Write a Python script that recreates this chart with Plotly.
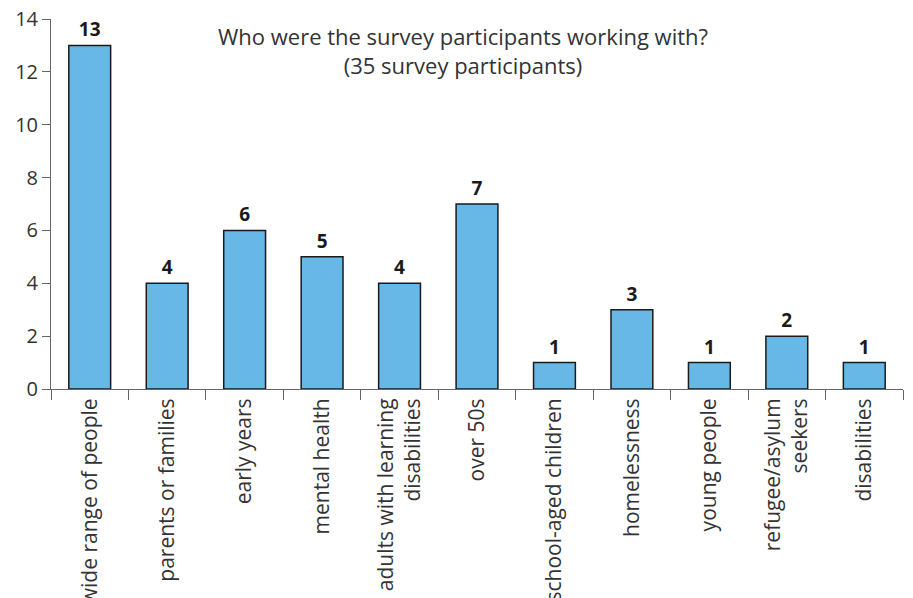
import plotly.graph_objects as go

categories = [
    "wide range of people", "parents or families", "early years", "mental health",
    "adults with learning<br>disabilities", "over 50s", "school-aged children",
    "homelessness", "young people", "refugee/asylum<br>seekers", "disabilities",
]
values = [13, 4, 6, 5, 4, 7, 1, 3, 1, 2, 1]
y_ticks = [0, 2, 4, 6, 8, 10, 12, 14]

FONT = "Open Sans, Roboto, DejaVu Sans, sans-serif"

fig = go.Figure(go.Bar(
    x=categories, y=values,
    marker=dict(color="#67b8e6", line=dict(color="#1a1a1a", width=1.5)),
    text=[str(v) for v in values], textposition="outside",
    textfont=dict(family=FONT, size=19, color="#1a1a1a", weight="bold"),
    cliponaxis=False,
))

# page body has an 8px margin, so the figure is shifted by (8, 8)
fig.update_layout(
    width=905, height=590,
    margin=dict(l=43, r=10, t=11, b=209, autoexpand=False),
    paper_bgcolor="white", plot_bgcolor="white",
    bargap=0.46, showlegend=False,
    font=dict(family=FONT, size=20, color="#333333"),
)
fig.update_xaxes(
    tickangle=-90, showline=True, linecolor="#666666", linewidth=1,
    ticks="outside", ticklen=10, tickcolor="#666666", tickson="boundaries",
    automargin=False, showgrid=False, tickfont=dict(size=21, color="#333333"),
    ticklabeloverflow="allow",
)
fig.update_yaxes(
    range=[0, 14], tickvals=y_ticks, showline=True, linecolor="#666666", linewidth=1,
    ticks="outside", ticklen=8, tickcolor="#666666", showgrid=False, zeroline=False,
    automargin=False, tickfont=dict(size=20, color="#333333"),
    ticklabeloverflow="allow",
)
fig.add_annotation(
    text="Who were the survey participants working with?<br>(35 survey participants)",
    xref="paper", yref="paper", x=0.483, y=1.0, xanchor="center", yanchor="top",
    showarrow=False, font=dict(family=FONT, size=22, color="#333333"),
)
fig.write_html("out.html")
